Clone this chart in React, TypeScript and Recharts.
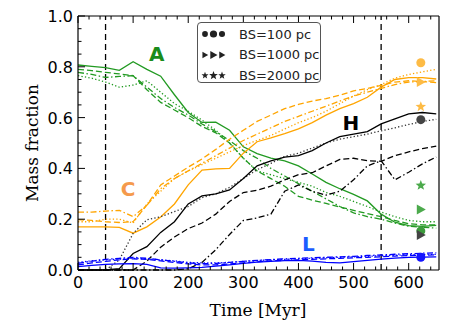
import React from "react";
import { ComposedChart, Line, Scatter, XAxis, YAxis, ReferenceLine } from "recharts";

// time axis (Myr)
const times = [0, 25, 50, 75, 100, 125, 150, 175, 200, 225, 250, 275, 300, 325, 350, 375, 400, 425, 450, 475, 500, 525, 550, 575, 600, 625, 650];

// A: green
const aSolid = [0.807, 0.802, 0.797, 0.786, 0.82, 0.79, 0.763, 0.69, 0.62, 0.581, 0.582, 0.55, 0.485, 0.458, 0.44, 0.43, 0.41, 0.378, 0.345, 0.32, 0.298, 0.272, 0.22, 0.188, 0.175, 0.172, 0.176];
const aDash = [0.79, 0.785, 0.778, 0.772, 0.765, 0.71, 0.66, 0.63, 0.6, 0.565, 0.54, 0.5, 0.44, 0.39, 0.36, 0.33, 0.29, 0.275, 0.262, 0.248, 0.235, 0.222, 0.21, 0.195, 0.182, 0.178, 0.178];
const aDashDot = [0.778, 0.77, 0.758, 0.762, 0.765, 0.72, 0.675, 0.64, 0.61, 0.575, 0.545, 0.51, 0.47, 0.44, 0.4, 0.37, 0.34, 0.31, 0.28, 0.25, 0.225, 0.21, 0.2, 0.185, 0.172, 0.168, 0.165];
const aDot = [0.765, 0.755, 0.74, 0.72, 0.728, 0.745, 0.7, 0.655, 0.625, 0.59, 0.55, 0.5, 0.44, 0.39, 0.375, 0.36, 0.345, 0.33, 0.305, 0.29, 0.27, 0.25, 0.228, 0.21, 0.195, 0.19, 0.19];

// C: orange
const cSolid = [0.17, 0.17, 0.17, 0.168, 0.145, 0.17, 0.209, 0.26, 0.335, 0.393, 0.398, 0.4, 0.46, 0.505, 0.52, 0.537, 0.556, 0.58, 0.61, 0.635, 0.655, 0.68, 0.72, 0.75, 0.757, 0.757, 0.752];
const cDash = [0.198, 0.195, 0.19, 0.187, 0.19, 0.255, 0.335, 0.37, 0.405, 0.437, 0.475, 0.515, 0.55, 0.585, 0.61, 0.635, 0.652, 0.665, 0.675, 0.688, 0.705, 0.715, 0.727, 0.74, 0.745, 0.742, 0.738];
const cDashDot = [0.228, 0.228, 0.232, 0.235, 0.21, 0.255, 0.32, 0.36, 0.39, 0.42, 0.45, 0.48, 0.51, 0.535, 0.56, 0.585, 0.605, 0.625, 0.645, 0.665, 0.685, 0.7, 0.715, 0.73, 0.74, 0.742, 0.745];
const cDot = [0.19, 0.19, 0.2, 0.2, 0.185, 0.26, 0.31, 0.36, 0.39, 0.415, 0.44, 0.465, 0.49, 0.51, 0.53, 0.555, 0.58, 0.6, 0.625, 0.655, 0.685, 0.71, 0.73, 0.755, 0.77, 0.78, 0.79];

// H: black
const hSolid = [0, 0, 0, 0.005, 0.065, 0.092, 0.148, 0.19, 0.26, 0.292, 0.3, 0.315, 0.36, 0.41, 0.43, 0.444, 0.45, 0.47, 0.5, 0.525, 0.535, 0.545, 0.575, 0.595, 0.615, 0.62, 0.615];
const hDash = [0, 0, 0, 0, 0, 0.035, 0.09, 0.13, 0.163, 0.185, 0.22, 0.27, 0.305, 0.314, 0.33, 0.355, 0.375, 0.383, 0.41, 0.435, 0.44, 0.43, 0.428, 0.45, 0.465, 0.478, 0.488];
const hDashDot = [0, 0, 0, 0, 0, 0, 0, 0, 0.005, 0.03, 0.08, 0.14, 0.195, 0.205, 0.22, 0.31, 0.335, 0.31, 0.295, 0.31, 0.355, 0.41, 0.43, 0.355, 0.385, 0.418, 0.445];
const hDot = [0, 0, 0, 0.04, 0.144, 0.198, 0.21, 0.23, 0.25, 0.285, 0.3, 0.325, 0.36, 0.395, 0.42, 0.447, 0.46, 0.48, 0.5, 0.515, 0.525, 0.535, 0.548, 0.56, 0.573, 0.585, 0.593];

// L: blue
const lSolid = [0.013, 0.018, 0.022, 0.024, 0.025, 0.022, 0.008, 0.007, 0.008, 0.01, 0.015, 0.02, 0.026, 0.031, 0.034, 0.037, 0.038, 0.035, 0.03, 0.028, 0.033, 0.038, 0.043, 0.047, 0.05, 0.051, 0.052];
const lDash = [0.02, 0.028, 0.034, 0.04, 0.044, 0.042, 0.036, 0.03, 0.024, 0.02, 0.02, 0.024, 0.028, 0.032, 0.036, 0.038, 0.04, 0.042, 0.044, 0.046, 0.048, 0.05, 0.052, 0.055, 0.057, 0.058, 0.06];
const lDashDot = [0.026, 0.035, 0.042, 0.046, 0.05, 0.046, 0.04, 0.034, 0.028, 0.025, 0.026, 0.03, 0.034, 0.038, 0.041, 0.044, 0.046, 0.048, 0.05, 0.052, 0.054, 0.057, 0.059, 0.062, 0.064, 0.066, 0.068];
const lDot = [0.03, 0.036, 0.04, 0.043, 0.046, 0.044, 0.04, 0.036, 0.03, 0.028, 0.028, 0.03, 0.034, 0.037, 0.04, 0.042, 0.044, 0.046, 0.048, 0.05, 0.052, 0.054, 0.056, 0.058, 0.06, 0.061, 0.062];

// final-time markers (BS=100 circles, 1000 triangles, 2000 stars)
const markerTime = 622;
const circleVals = [0.816, 0.592, 0.154, 0.05];
const triangleVals = [0.74, 0.238, 0.138];
const starVals = [0.643, 0.333];

// region labels
const labelNames = ["A", "C", "H", "L"];
const labelTimes = [143, 91, 495, 418];
const labelVals = [0.824, 0.29, 0.552, 0.076];

const xTicks = [0, 20, 40, 60, 80, 100, 120, 140, 160, 180, 200, 220, 240, 260, 280, 300, 320, 340, 360, 380, 400, 420, 440, 460, 480, 500, 520, 540, 560, 580, 600, 620, 640];
const yTicks = [0, 0.05, 0.1, 0.15, 0.2, 0.25, 0.3, 0.35, 0.4, 0.45, 0.5, 0.55, 0.6, 0.65, 0.7, 0.75, 0.8, 0.85, 0.9, 0.95, 1.0];
const legendLabels = ["BS=100 pc", "BS=1000 pc", "BS=2000 pc"];

const GREEN = "#229a22";
const ORANGE = "#ffa500";
const BLACK = "#000000";
const BLUE = "#0000ff";

const DASH = "6 3";
const DASHDOT = "6 2.5 1.5 2.5";
const DOT = "1.3 2.2";

const rows = times.map((t, i) => ({
  t,
  aSolid: aSolid[i], aDash: aDash[i], aDashDot: aDashDot[i], aDot: aDot[i],
  cSolid: cSolid[i], cDash: cDash[i], cDashDot: cDashDot[i], cDot: cDot[i],
  hSolid: hSolid[i], hDash: hDash[i], hDashDot: hDashDot[i], hDot: hDot[i],
  lSolid: lSolid[i], lDash: lDash[i], lDashDot: lDashDot[i], lDot: lDot[i],
}));

const lines = [
  { key: "aDot", color: GREEN, dash: DOT },
  { key: "aDashDot", color: GREEN, dash: DASHDOT },
  { key: "aDash", color: GREEN, dash: DASH },
  { key: "aSolid", color: GREEN, dash: undefined },
  { key: "cDot", color: ORANGE, dash: DOT },
  { key: "cDashDot", color: ORANGE, dash: DASHDOT },
  { key: "cDash", color: ORANGE, dash: DASH },
  { key: "cSolid", color: ORANGE, dash: undefined },
  { key: "hDot", color: "#333", dash: DOT },
  { key: "hDashDot", color: BLACK, dash: DASHDOT },
  { key: "hDash", color: BLACK, dash: DASH },
  { key: "hSolid", color: BLACK, dash: undefined },
  { key: "lDot", color: BLUE, dash: DOT },
  { key: "lDashDot", color: BLUE, dash: DASHDOT },
  { key: "lDash", color: BLUE, dash: DASH },
  { key: "lSolid", color: BLUE, dash: undefined },
];

const circleColors = ["#fdbb45", "#444444", "#3c9c3c", "#1515ff"];
const triangleColors = ["#fdbb45", "#4caa4c", "#444444"];
const starColors = ["#fdbb45", "#4caa4c"];
const labelColors = ["#1a8c1a", "#f59a4c", "#000000", "#1a5cff"];

const circleData = circleVals.map((v, i) => ({ t: markerTime, v, c: circleColors[i] }));
const triangleData = triangleVals.map((v, i) => ({ t: markerTime, v, c: triangleColors[i] }));
const starData = starVals.map((v, i) => ({ t: markerTime, v, c: starColors[i] }));
const labelData = labelNames.map((s, i) => ({ t: labelTimes[i], v: labelVals[i], s, c: labelColors[i] }));

const starPath = (cx: number, cy: number, R: number) => {
  const r = R * 0.42;
  let d = "";
  for (let k = 0; k < 10; k++) {
    const ang = -Math.PI / 2 + (k * Math.PI) / 5;
    const rad = k % 2 === 0 ? R : r;
    d += (k === 0 ? "M" : "L") + (cx + rad * Math.cos(ang)).toFixed(2) + "," + (cy + rad * Math.sin(ang)).toFixed(2);
  }
  return d + "Z";
};

const triPoints = (cx: number, cy: number, s: number) =>
  `${cx - s * 0.8},${cy - s} ${cx - s * 0.8},${cy + s} ${cx + s},${cy}`;

const isMajorX = (v: number) => v % 100 === 0;
const isMajorY = (v: number) => Math.abs(v * 5 - Math.round(v * 5)) < 1e-6;

const BottomTick = ({ x, y, payload }: any) => {
  const major = isMajorX(payload.value);
  return (
    <g>
      <line x1={x} y1={y} x2={x} y2={y - (major ? 7 : 3.5)} stroke="#000" strokeWidth={1} />
      {major && (
        <text x={x} y={y + 18} textAnchor="middle" fontSize={16} fontFamily="DejaVu Sans" fill="#000">
          {payload.value}
        </text>
      )}
    </g>
  );
};

const TopTick = ({ x, y, payload }: any) => {
  const major = isMajorX(payload.value);
  return <line x1={x} y1={y} x2={x} y2={y + (major ? 7 : 3.5)} stroke="#000" strokeWidth={1} />;
};

const LeftTick = ({ x, y, payload }: any) => {
  const major = isMajorY(payload.value);
  return (
    <g>
      <line x1={x} y1={y} x2={x + (major ? 7 : 3.5)} y2={y} stroke="#000" strokeWidth={1} />
      {major && (
        <text x={x - 5} y={y + 6} textAnchor="end" fontSize={16} fontFamily="DejaVu Sans" fill="#000">
          {payload.value.toFixed(1)}
        </text>
      )}
    </g>
  );
};

const RightTick = ({ x, y, payload }: any) => {
  const major = isMajorY(payload.value);
  return <line x1={x} y1={y} x2={x - (major ? 7 : 3.5)} y2={y} stroke="#000" strokeWidth={1} />;
};

const LegendMarkers = ({ kind }: { kind: number }) => {
  const xs = [4, 12.5, 21];
  const sc = [0.8, 1, 0.85];
  return (
    <svg width={27} height={14} style={{ display: "block" }}>
      {xs.map((x, i) => {
        if (kind === 0) return <circle key={i} cx={x} cy={7} r={3.6 * sc[i]} fill="#222" />;
        if (kind === 1) return <polygon key={i} points={triPoints(x, 7, 4 * sc[i])} fill="#222" />;
        return <path key={i} d={starPath(x, 7.5, 4.6 * sc[i])} fill="#222" />;
      })}
    </svg>
  );
};

const App = () => {
  return (
    <div style={{ position: "absolute", left: 0, top: 0, width: 458, height: 327, background: "#fff" }}>
      <ComposedChart width={458} height={327} data={rows} margin={{ top: 6, right: 0, bottom: 0, left: 0 }}>
        <XAxis xAxisId="b" dataKey="t" type="number" domain={[0, 655]} ticks={xTicks} interval={0}
          tickSize={0} tickMargin={0} tick={<BottomTick />} height={57} axisLine={{ stroke: "#000", strokeWidth: 1.2 }} />
        <XAxis xAxisId="t" orientation="top" dataKey="t" type="number" domain={[0, 655]} ticks={xTicks} interval={0}
          tickSize={0} tickMargin={0} tick={<TopTick />} height={10} axisLine={{ stroke: "#000", strokeWidth: 1.2 }} />
        <YAxis yAxisId="l" type="number" domain={[0, 1]} ticks={yTicks} interval={0}
          tickSize={0} tickMargin={0} tick={<LeftTick />} width={78} axisLine={{ stroke: "#000", strokeWidth: 1.2 }} />
        <YAxis yAxisId="r" orientation="right" type="number" domain={[0, 1]} ticks={yTicks} interval={0}
          tickSize={0} tickMargin={0} tick={<RightTick />} width={19} axisLine={{ stroke: "#000", strokeWidth: 1.2 }} />

        <ReferenceLine xAxisId="b" yAxisId="l" x={50} stroke="#000" strokeWidth={1.3} strokeDasharray="6 4" />
        <ReferenceLine xAxisId="b" yAxisId="l" x={550} stroke="#000" strokeWidth={1.3} strokeDasharray="6 4" />

        {lines.map((s) => (
          <Line key={s.key} xAxisId="b" yAxisId="l" dataKey={s.key} type="linear" stroke={s.color}
            strokeWidth={1.3} strokeDasharray={s.dash} dot={false} isAnimationActive={false} />
        ))}

        <Scatter xAxisId="b" yAxisId="l" data={circleData} dataKey="v" isAnimationActive={false}
          shape={(p: any) => <circle cx={p.cx} cy={p.cy} r={4.5} fill={p.payload.c} />} />
        <Scatter xAxisId="b" yAxisId="l" data={triangleData} dataKey="v" isAnimationActive={false}
          shape={(p: any) => <polygon points={triPoints(p.cx, p.cy, 5)} fill={p.payload.c} />} />
        <Scatter xAxisId="b" yAxisId="l" data={starData} dataKey="v" isAnimationActive={false}
          shape={(p: any) => <path d={starPath(p.cx, p.cy, 5.5)} fill={p.payload.c} />} />
        <Scatter xAxisId="b" yAxisId="l" data={labelData} dataKey="v" isAnimationActive={false}
          shape={(p: any) => (
            <text x={p.cx} y={p.cy} textAnchor="middle" fontSize={20} fontWeight="bold"
              fontFamily="DejaVu Sans" fill={p.payload.c}>{p.payload.s}</text>
          )} />
      </ComposedChart>

      <svg width={458} height={327} style={{ position: "absolute", left: 0, top: 0, pointerEvents: "none" }}>
        <text x={258} y={316} textAnchor="middle" fontSize={17} fontFamily="DejaVu Serif" fill="#000">Time [Myr]</text>
        <text x={0} y={0} transform="translate(38,143) rotate(-90)" textAnchor="middle" fontSize={17}
          fontFamily="DejaVu Serif" fill="#000">Mass fraction</text>
      </svg>

      <div style={{
        position: "absolute", left: 197, top: 22, width: 122, height: 59, border: "1px solid #555",
        borderRadius: 4, background: "rgba(255,255,255,0.85)", fontFamily: "DejaVu Sans", fontSize: 13, color: "#222",
      }}>
        {legendLabels.map((lab, i) => (
          <div key={lab} style={{ position: "absolute", left: 3, top: 3 + i * 20.5, height: 16, display: "flex", alignItems: "center" }}>
            <LegendMarkers kind={i} />
            <span style={{ marginLeft: 11, whiteSpace: "nowrap" }}>{lab}</span>
          </div>
        ))}
      </div>
    </div>
  );
};

export default App;
